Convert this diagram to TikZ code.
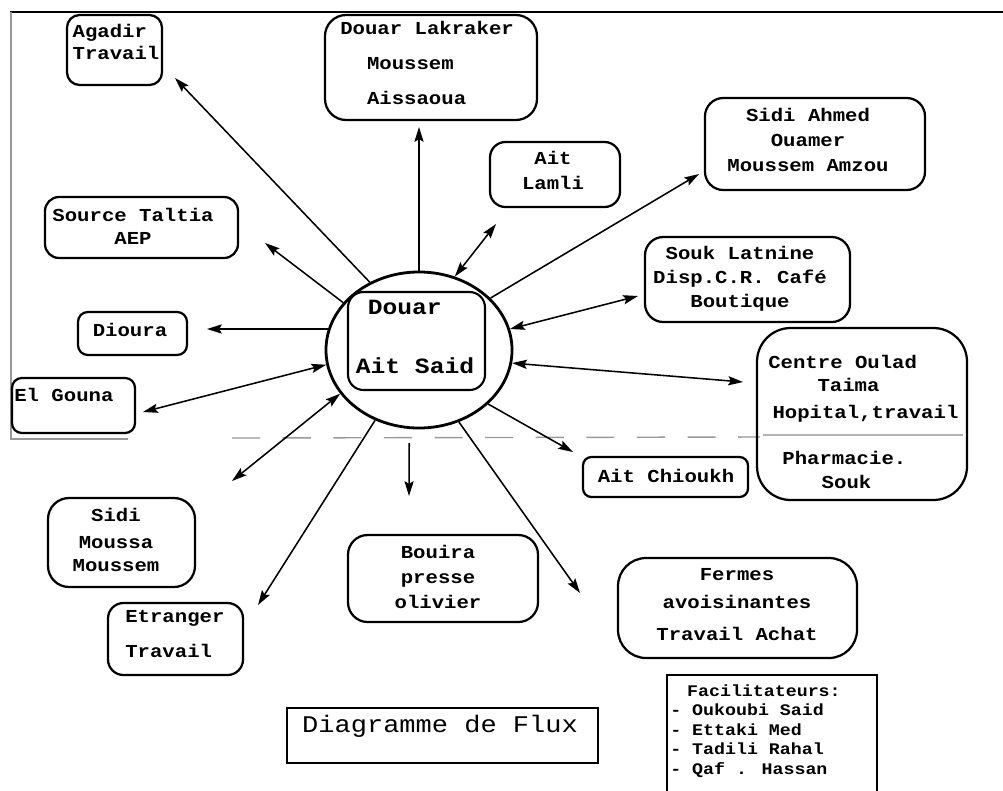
\documentclass[tikz,border=0pt]{standalone}
\usepackage{fontspec}
\newfontfamily\tw[FakeStretch=1.13]{Liberation Mono}
\usetikzlibrary{arrows.meta,fit,shapes.geometric}

\begin{document}
\begin{tikzpicture}[x=0.025cm,y=-0.025cm,
  box/.style={draw, line width=1.6pt, rounded corners=#1, inner sep=0pt},
  box/.default=10pt,
  sqbox/.style={draw, line width=1.5pt, inner sep=0pt},
  lbl/.style={font=\tw\bfseries\fontsize{13}{17.8}\selectfont, inner sep=0pt, align=center},
  flow/.style={line width=1.1pt, -{Stealth[length=10.5pt,width=6.5pt,inset=1.8pt]}},
  both/.style={line width=1.1pt, {Stealth[length=10.5pt,width=6.5pt,inset=1.8pt]}-{Stealth[length=10.5pt,width=6.5pt,inset=1.8pt]}},
  rule/.style={line width=1pt, black!40},
]
\useasboundingbox (0,0) rectangle (1003,790);
\clip (0,0) rectangle (1003,790);
\fill[white] (0,0) rectangle (1003,790);

% page frame and separating rule
\draw[line width=2pt] (10,12) -- (1003,12);
\draw[line width=1pt, black!40] (11,12) -- (11,440);
\draw[rule] (12,439) -- (128,439);
\draw[rule, dash pattern=on 20pt off 16pt] (232,438) -- (760,437);
\draw[rule, black!30] (763,435) -- (963,435);

% central village
\node[draw, ellipse, line width=2pt, minimum width=4.65cm, minimum height=3.9cm, inner sep=0pt] (hub) at (419,350) {};
\node[box=11pt, line width=1.5pt, fit={(348,292) (485,390)}] (douar) {};
\node[lbl, font=\tw\bfseries\fontsize{15.5}{18.5}\selectfont, align=left] (douar-t) at (415,337) {\hspace*{8.5pt}Douar\\[23.5pt]Ait Said};

% destinations
\node[box=9pt, fit={(67,15) (162,85)}] (agadir) {};
\node[lbl, align=left] (agadir-t) at (116,42) {Agadir\\[-2.8pt]Travail};

\node[box=15pt, fit={(325,15) (537,120)}] (lakraker) {};
\node[lbl, align=left, anchor=west] (lakraker-t) at (340,63) {Douar Lakraker\\[7.1pt]\hspace*{19pt}Moussem\\[7.1pt]\hspace*{19pt}Aissaoua};

\node[box=11pt, fit={(490,142) (620,207)}] (lamli) {};
\node[lbl] (lamli-t) at (553,170) {Ait\\Lamli};

\node[box=13pt, fit={(705,98) (925,190)}] (ahmed) {};
\node[lbl] (ahmed-t) at (808,140) {Sidi Ahmed\\Ouamer\\Moussem Amzou};

\node[box=13pt, fit={(645,237) (850,322)}] (souk) {};
\node[lbl] (souk-t) at (740,279) {Souk Latnine\\[-0.7pt]Disp.C.R. Café\\[-0.7pt]Boutique};

\node[box=24pt, fit={(757,328) (967,500)}] (centre) {};
\node[lbl, align=left, anchor=west] (centre-t) at (768,422) {Centre Oulad\\[-1.4pt]\hspace*{35pt}Taima\\[1.4pt]\hspace*{3pt}Hopital,travail\\[14.9pt]\hspace*{10pt}Pharmacie.\\[-0.7pt]\hspace*{38pt}Souk};

\node[box=6pt, fit={(583,457) (748,497)}] (chioukh) {};
\node[lbl] (chioukh-t) at (666,476) {Ait Chioukh};

\node[box=10pt, fit={(45,197) (238,258)}] (taltia) {};
\node[lbl] (taltia-t) at (133,226) {Source Taltia\\[-1.4pt]AEP};

\node[box=7pt, fit={(78,312) (187,355)}] (dioura) {};
\node[lbl] (dioura-t) at (130,330) {Dioura};

\node[box=7pt, fit={(12,378) (135,433)}] (gouna) {};
\node[lbl, anchor=west] (gouna-t) at (14,395) {El Gouna};

\node[box=15pt, fit={(48,498) (195,587)}] (moussa) {};
\node[lbl] (moussa-t) at (116,540) {Sidi\\[1.4pt]Moussa\\[-1.4pt]Moussem};

\node[box=11pt, fit={(108,603) (243,675)}] (etranger) {};
\node[lbl, align=left, anchor=west] (etranger-t) at (125,634) {Etranger\\[7.1pt]Travail};

\node[box=14pt, fit={(348,535) (538,622)}] (bouira) {};
\node[lbl] (bouira-t) at (438,577) {Bouira\\presse\\olivier};

\node[box=20pt, fit={(618,558) (857,658)}] (fermes) {};
\node[lbl] (fermes-t) at (737,605) {Fermes\\[2.1pt]avoisinantes\\[5pt]Travail Achat};

% title and facilitators
\node[sqbox, fit={(287,708) (598,763)}] (titre) {};
\node[font=\tw\fontsize{17}{20}\selectfont, inner sep=0pt] (titre-t) at (440,726) {Diagramme de Flux};

\node[sqbox, fit={(667,675) (877,800)}] (facil) {};
\node[lbl, font=\tw\bfseries\fontsize{11.5}{13.9}\selectfont, align=left, anchor=west] (facil-t) at (670,731) {\hspace*{12pt}Facilitateurs:\\- Oukoubi Said\\- Ettaki Med\\- Tadili Rahal\\- Qaf . Hassan};

% arrow ends
\coordinate (agadir-in) at (175,78);
\coordinate (lakraker-in) at (419,127);
\coordinate (lamli-in) at (496,224);
\coordinate (ahmed-in) at (699,174);
\coordinate (souk-in) at (638,296);
\coordinate (centre-in) at (743,382);
\coordinate (chioukh-in) at (573,452);
\coordinate (fermes-in) at (580,593);
\coordinate (bouira-in) at (409,496);
\coordinate (etranger-in) at (258,605);
\coordinate (moussa-in) at (232,481);
\coordinate (gouna-in) at (143,412);
\coordinate (dioura-in) at (207,329);
\coordinate (taltia-in) at (265,243);

% flows
\draw[flow] (hub.126) -- (agadir-in);
\draw[flow] (hub.north) -- (lakraker-in);
\draw[both] (hub.64) -- (lamli-in);
\draw[flow] (hub.36) -- (ahmed-in);
\draw[both] (hub.13) -- (souk-in);
\draw[both] (hub.-8) -- (centre-in);
\draw[flow] (hub.-38) -- (chioukh-in);
\draw[flow] (hub.-61) -- (fermes-in);
\draw[flow, shorten <=10pt] (hub.-97) -- (bouira-in);
\draw[flow] (hub.238) -- (etranger-in);
\draw[both] (hub.209) -- (moussa-in);
\draw[both] (hub.189) -- (gouna-in);
\draw[flow] (hub.167) -- (dioura-in);
\draw[flow] (hub.148) -- (taltia-in);
\end{tikzpicture}
\end{document}
